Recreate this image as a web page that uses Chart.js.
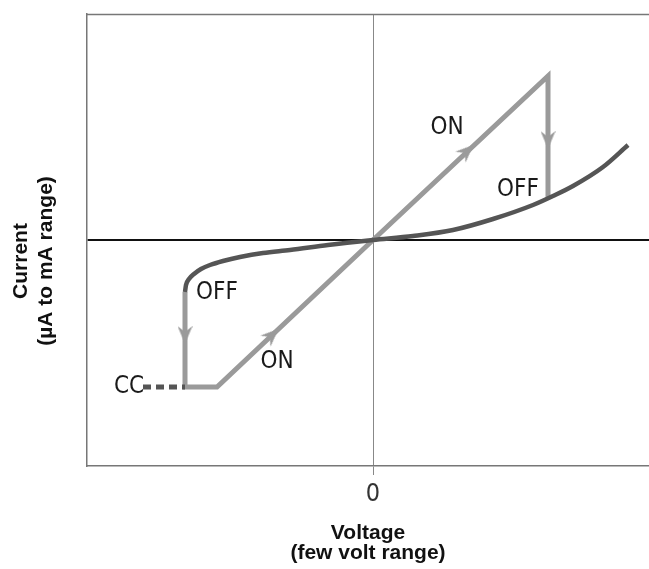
<!DOCTYPE html>
<html>
<head>
<meta charset="utf-8">
<script src="https://cdn.jsdelivr.net/npm/chart.js@4/dist/chart.umd.min.js"></script>
<style>
  html, body { margin: 0; padding: 0; background: #fff; }
  #wrap { width: 649px; height: 569px; }
</style>
</head>
<body>
<div id="wrap"><canvas id="c" width="649" height="569"></canvas></div>
<script>
// ---- data (arbitrary units: voltage / current) ----
const curveV = [-188, -187, -184, -179, -172, -163, -150, -133, -110, -83, -45, 0, 40, 80, 120, 160, 180, 200, 230, 255];
const curveI = [-52, -45, -39, -34, -29, -25, -21, -17, -13, -10, -5, 0, 4, 10, 21, 35, 44, 54, 73, 95];

const loopV = [-188, -188, -156, 0, 175, 175];
const loopI = [-52, -147, -147, 0, 164, 43];

const ccV = [-230, -188];
const ccI = [-147, -147];

const arrowV = [-188, -101, 94, 175];
const arrowI = [-95, -95, 89, 100];
const arrowDir = [180, 47, 47, 180];

const xTicks = [0];
const xTickLabels = ['0'];
const xTitle = ['Voltage', '(few volt range)'];
const yTitle = ['Current', '(\u00B5A to mA range)'];

const noteText = ['ON', 'OFF', 'OFF', 'ON', 'CC'];
const noteV = [74, 145, -156, -96, -244];
const noteI = [112, 50, -53, -122, -147];

// ---- helpers ----
const pts = (xs, ys) => xs.map((x, i) => ({ x: x, y: ys[i] }));
const LIGHT = '#9a9a9a';
const DARK = '#555555';
const NARROW = '"Liberation Sans Narrow", "DejaVu Sans Condensed", "Roboto", sans-serif';

function makeArrow(color) {
  const c = document.createElement('canvas');
  c.width = 15; c.height = 18;
  const g = c.getContext('2d');
  g.fillStyle = color;
  g.beginPath();
  g.moveTo(7.5, 0);
  g.lineTo(15, 18);
  g.lineTo(7.5, 12);
  g.lineTo(0, 18);
  g.closePath();
  g.fill();
  return c;
}
const arrowImg = makeArrow(LIGHT);

const decor = {
  id: 'decor',
  beforeDatasetsDraw(chart) {
    const { ctx, chartArea: a } = chart;
    ctx.save();
    ctx.strokeStyle = '#777';
    ctx.lineWidth = 1.5;
    ctx.beginPath();
    ctx.moveTo(a.left, a.top + 0.5);
    ctx.lineTo(a.right, a.top + 0.5);
    ctx.stroke();
    ctx.restore();
  },
  afterDatasetsDraw(chart) {
    const { ctx, scales } = chart;
    ctx.save();
    ctx.fillStyle = '#1a1a1a';
    ctx.font = '24px ' + NARROW;
    ctx.textBaseline = 'middle';
    ctx.textAlign = 'center';
    noteText.forEach((t, i) => {
      ctx.fillText(t, scales.x.getPixelForValue(noteV[i]), scales.y.getPixelForValue(noteI[i]));
    });
    // y axis title
    ctx.fillStyle = '#111';
    ctx.font = 'bold 21px "Liberation Sans", Arial, sans-serif';
    const cy = 261;
    const xs = [21, 46];
    yTitle.forEach((t, i) => {
      ctx.save();
      ctx.translate(xs[i], cy);
      ctx.rotate(-Math.PI / 2);
      ctx.fillText(t, 0, 0);
      ctx.restore();
    });
    ctx.restore();
  }
};

new Chart(document.getElementById('c'), {
  type: 'scatter',
  data: {
    datasets: [
      { data: pts(curveV, curveI), showLine: true, borderColor: DARK, borderWidth: 4.5,
        cubicInterpolationMode: 'monotone', pointRadius: 0, order: 1 },
      { data: pts(ccV, ccI), showLine: true, borderColor: DARK, borderWidth: 5,
        borderDash: [8, 5], pointRadius: 0, order: 2 },
      { data: pts(loopV, loopI), showLine: true, borderColor: LIGHT, borderWidth: 5,
        borderJoinStyle: 'miter', tension: 0, pointRadius: 0, order: 3 },
      { data: pts(arrowV, arrowI), showLine: false, pointStyle: arrowImg,
        rotation: arrowDir, pointRadius: 9, order: 0 }
    ]
  },
  options: {
    responsive: false,
    animation: false,
    events: [],
    layout: { autoPadding: false, padding: { top: 14, left: 0, right: 0, bottom: 0 } },
    plugins: { legend: { display: false }, tooltip: { enabled: false } },
    scales: {
      x: {
        type: 'linear', position: 'bottom', min: -286, max: 276,
        afterBuildTicks: s => { s.ticks = xTicks.map(v => ({ value: v })); },
        afterFit: s => { s.height = 103; },
        ticks: {
          callback: (v) => xTickLabels[xTicks.indexOf(v)],
          color: '#333', padding: 4,
          font: { family: NARROW, size: 25, lineHeight: 1.2 },
          maxRotation: 0
        },
        grid: { color: '#888', lineWidth: 1, tickLength: 9, drawOnChartArea: true },
        border: { display: true, color: '#777', width: 1.5 },
        title: {
          display: true, text: xTitle, color: '#111',
          font: { family: '"Liberation Sans", Arial, sans-serif', size: 21, weight: 'bold', lineHeight: 0.95 },
          padding: { top: 0, bottom: 6 }
        }
      },
      y: {
        type: 'linear', position: 'left', min: -226, max: 226,
        afterBuildTicks: s => { s.ticks = [{ value: 0 }]; },
        afterFit: s => { s.width = 87; },
        ticks: { display: false },
        grid: { color: '#111', lineWidth: 2, drawTicks: false, tickLength: 0 },
        border: { display: true, color: '#777', width: 1.5 }
      }
    }
  },
  plugins: [decor]
});
</script>
</body>
</html>
